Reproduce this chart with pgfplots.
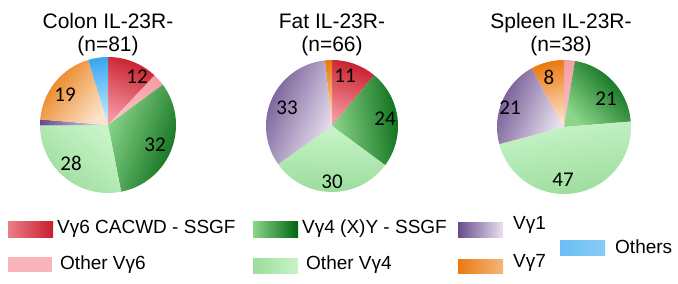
\documentclass[border=0pt]{standalone}
\usepackage{pgfplots}
\pgfplotsset{compat=1.18}
\usepackage{pgfplotstable}
\usepackage{fontspec}
\setmainfont{Liberation Sans}
\newfontfamily\numfont{Carlito}

% light (A) and dark (B) end of each slice colour
\definecolor{cacwdA}{RGB}{244,150,160}\definecolor{cacwdB}{RGB}{200,30,45}
\definecolor{othsixA}{RGB}{252,196,200}\definecolor{othsixB}{RGB}{246,158,166}
\definecolor{vfourA}{RGB}{140,214,140}\definecolor{vfourB}{RGB}{0,100,15}
\definecolor{othfourA}{RGB}{200,244,200}\definecolor{othfourB}{RGB}{155,220,155}
\definecolor{voneA}{RGB}{234,226,240}\definecolor{voneB}{RGB}{104,76,140}
\definecolor{vsevenA}{RGB}{252,226,200}\definecolor{vsevenB}{RGB}{234,122,16}
\definecolor{othersA}{RGB}{200,236,252}\definecolor{othersB}{RGB}{58,168,240}

% percentages, clockwise from 12 o'clock
\pgfplotstableread{
value col
12   cacwd
2.9  othsix
32   vfour
28   othfour
1.4  vone
19   vseven
4.7  others
}\coltab
\pgfplotstableread{
value col
11   cacwd
24   vfour
30   othfour
33   vone
1.7  vseven
}\fattab
\pgfplotstableread{
value col
2.6  othsix
21   vfour
47   othfour
21   vone
8    vseven
}\spltab

\newcommand\drawpie[4]{%
  \pgfplotstablegetrowsof{#1}\pgfmathtruncatemacro\lastrow{\pgfplotsretval-1}%
  \def\pietotal{0}%
  \pgfplotsforeachungrouped \rowi in {0,...,\lastrow}{%
    \pgfplotstablegetelem{\rowi}{value}\of#1%
    \pgfmathsetmacro\pietotal{\pietotal+\pgfplotsretval}}%
  \pgfmathsetmacro\piescale{360/\pietotal}%
  \def\pieacc{0}%
  \pgfplotsforeachungrouped \rowi in {0,...,\lastrow}{%
    \pgfplotstablegetelem{\rowi}{value}\of#1\let\pieval\pgfplotsretval
    \pgfplotstablegetelem{\rowi}{col}\of#1\let\piecol\pgfplotsretval
    \pgfmathsetmacro\piea{90-\pieacc*\piescale}%
    \pgfmathsetmacro\pieacc{\pieacc+\pieval}%
    \pgfmathsetmacro\pieb{90-\pieacc*\piescale}%
    \pgfmathsetmacro\pies{(\piea+\pieb)/2-90}%
    \edef\tmp{\noexpand\path[bottom color=\piecol A, top color=\piecol B, shading angle=\pies]
      (axis cs:#2,#3) -- ++(\piea:#4pt) arc[start angle=\piea, end angle=\pieb, radius=#4pt] -- cycle;}%
    \tmp}%
}

\begin{document}
\begin{tikzpicture}
\begin{axis}[
    x=1pt, y=1pt, y dir=reverse,
    xmin=0, xmax=678, ymin=0, ymax=284,
    hide axis, clip=false, scale only axis,
]
\path (axis cs:0,0) rectangle (axis cs:678,284);
\pgfplotsextra{\drawpie{\coltab}{108}{125}{68}}
\pgfplotsextra{\drawpie{\fattab}{332}{126}{66}}
\pgfplotsextra{\drawpie{\spltab}{564}{127}{67}}

% titles
\begin{scope}[every node/.style={anchor=base, font=\fontsize{21}{24}\selectfont}]
\node at (axis cs:108,28) {Colon IL-23R-};
\node at (axis cs:108,51) {(n=81)};
\node at (axis cs:332,28) {Fat IL-23R-};
\node at (axis cs:332,51) {(n=66)};
\node at (axis cs:561,28) {Spleen IL-23R-};
\node at (axis cs:561,51) {(n=38)};
\end{scope}

% slice labels
\begin{scope}[every node/.style={font=\numfont\fontsize{21}{24}\selectfont}]
\node at (axis cs:137,77) {12};
\node at (axis cs:155,145) {32};
\node at (axis cs:71,163) {28};
\node at (axis cs:65,95) {19};
\node at (axis cs:345,76) {11};
\node at (axis cs:385,119) {24};
\node at (axis cs:332,182) {30};
\node at (axis cs:287,108) {33};
\node at (axis cs:549,77) {8};
\node at (axis cs:606,99) {21};
\node at (axis cs:563,180) {47};
\node at (axis cs:510,108) {21};
\end{scope}

% legend
\fill[left color=cacwdA!80!cacwdB, right color=cacwdB] (axis cs:8,221) rectangle (axis cs:53,237);
\fill[othsixA!60!othsixB] (axis cs:8,257) rectangle (axis cs:52,272);
\fill[left color=vfourA, right color=vfourB] (axis cs:253,221) rectangle (axis cs:298,237);
\fill[left color=othfourB, right color=othfourA] (axis cs:253,258) rectangle (axis cs:298,273);
\fill[left color=voneB, right color=voneA] (axis cs:458,222) rectangle (axis cs:503,237);
\fill[left color=vsevenB, right color=vsevenB!55!white] (axis cs:458,259) rectangle (axis cs:503,273);
\fill[left color=othersB!75!white, right color=othersB!60!white] (axis cs:560,240) rectangle (axis cs:605,255);
\begin{scope}[every node/.style={anchor=west, inner sep=0pt, font=\fontsize{19}{22}\selectfont}]
\node at (axis cs:57,229) {Vγ6 CACWD - SSGF};
\node at (axis cs:60,265) {Other Vγ6};
\node at (axis cs:302,229) {Vγ4 (X)Y - SSGF};
\node at (axis cs:306,265) {Other Vγ4};
\node at (axis cs:513,225) {Vγ1};
\node at (axis cs:513,263) {Vγ7};
\node at (axis cs:615,247) {Others};
\end{scope}
\end{axis}
\end{tikzpicture}
\end{document}
